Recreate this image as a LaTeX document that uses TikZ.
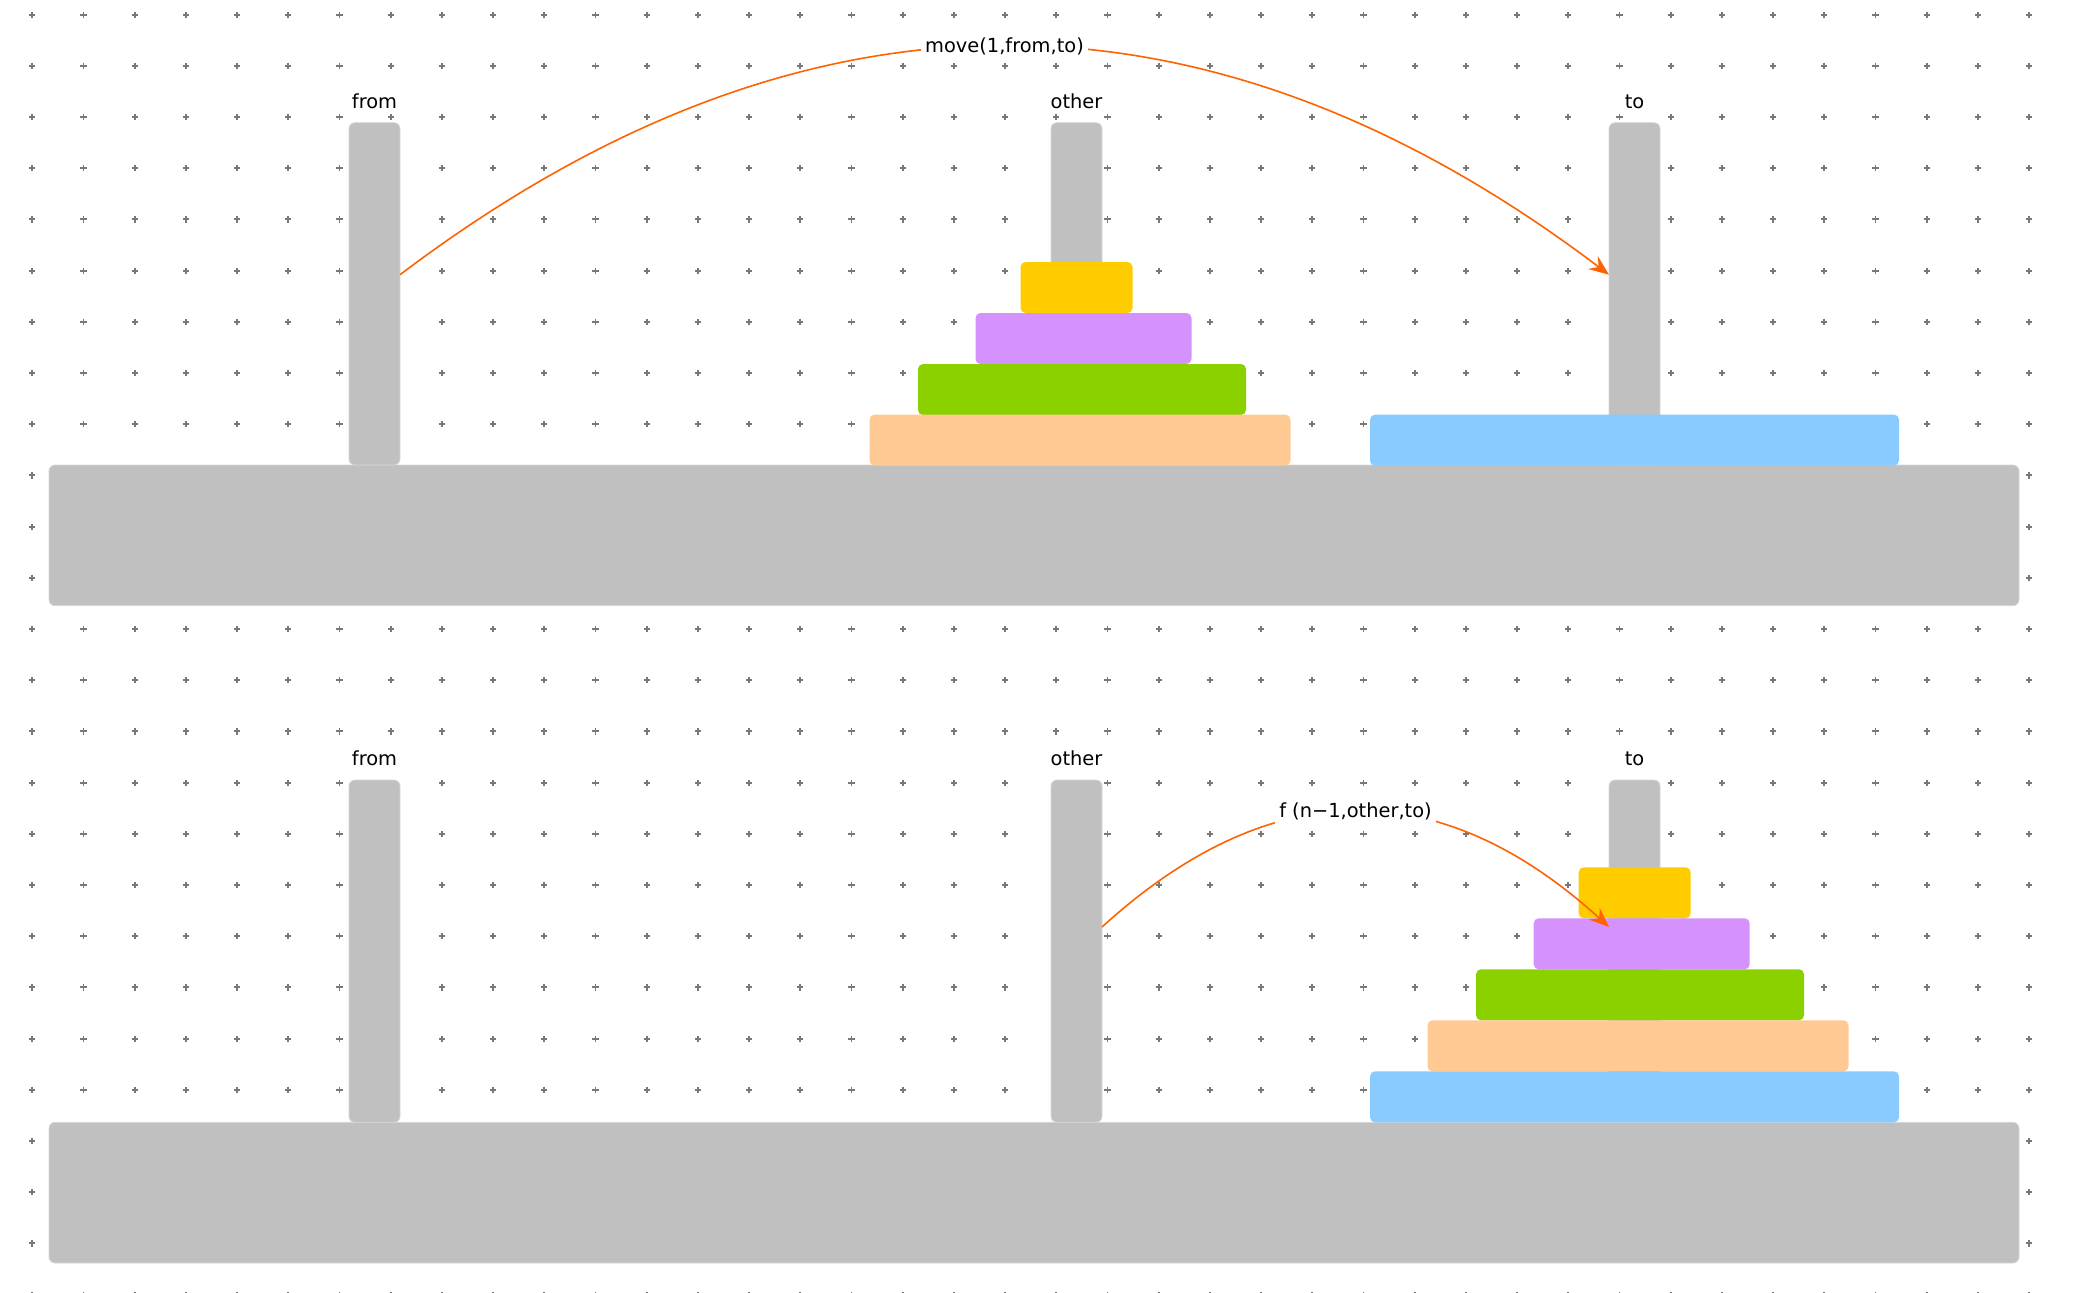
\documentclass[tikz,border=0pt]{standalone}
\usepackage{fontspec}
\setmainfont{DejaVu Sans}
\usetikzlibrary{arrows.meta,calc}
\definecolor{pegc}{RGB}{192,192,192}
\definecolor{pegline}{RGB}{214,214,214}
\definecolor{dyel}{RGB}{255,204,0}
\definecolor{dpur}{RGB}{213,146,252}
\definecolor{dgrn}{RGB}{139,209,0}
\definecolor{dpch}{RGB}{254,201,147}
\definecolor{dblu}{RGB}{138,203,255}
\definecolor{arr}{RGB}{255,98,0}
\definecolor{gridc}{RGB}{120,120,120}
\begin{document}
\begin{tikzpicture}[x=0.5pt,y=-0.5pt,
  blk/.style={rectangle,inner sep=0pt,outer sep=0pt,anchor=north west,rounded corners=3pt},
  wood/.style={blk,fill=pegc,draw=pegline,line width=0.4pt},
  pegbox/.style={wood,minimum width=25.5pt,minimum height=171.15pt},
  basebox/.style={wood,minimum width=985pt,minimum height=70.35pt},
  disk/.style={blk,rounded corners=2.5pt,minimum height=25.5pt},
  lbl/.style={font=\fontsize{9.7}{11}\selectfont,anchor=base,inner sep=0pt},
  mv/.style={draw=arr,line width=0.8pt,-{Stealth[length=10pt,width=8pt,inset=3.5pt]}},
  mvl/.style={font=\fontsize{9.7}{11}\selectfont,fill=white,inner sep=2pt},
  gridmark/.style={draw=gridc,line width=0.95pt}
]
\path[use as bounding box] (0,0) rectangle (2074,1292);
\clip (0,0) rectangle (2074,1292);
% dotted grid
\foreach \i in {0,...,39}{
  \foreach \j in {0,...,25}{
    \path[gridmark] ({32.3+51.2*\i-3.1},{14.6+51.2*\j}) -- ++(6.2,0)
      ({32.3+51.2*\i},{14.6+51.2*\j-3.1}) -- ++(0,6.2);
  }
}
% ---------- top scene ----------
\node[basebox] (baseT) at (49,465) {};
\node[pegbox] (pegFromT) at (349,122.7) {};
\node[pegbox] (pegOtherT) at (1051,122.7) {};
\node[pegbox] (pegToT) at (1609,122.7) {};
\node[disk,fill=dyel,minimum width=56pt] (yelT) at (1020.5,262) {};
\node[disk,fill=dpur,minimum width=108pt] (purT) at (975.5,313) {};
\node[disk,fill=dgrn,minimum width=164pt] (grnT) at (918,364) {};
\node[disk,fill=dpch,minimum width=210.5pt] (pchT) at (869.5,414.6) {};
\node[disk,fill=dblu,minimum width=264.5pt] (bluT) at (1370,414.6) {};
\node[lbl] (lFromT) at (374.5,108) {from};
\node[lbl] (lOtherT) at (1076.5,108) {other};
\node[lbl] (lToT) at (1634.5,108) {to};
\coordinate (sT) at ($(pegFromT.north east)+(0,152)$);
\coordinate (eT) at ($(pegToT.north west)+(0,152)$);
\draw[mv] (sT) .. controls (803,-30) and (1206,-30) .. node[mvl,pos=0.5] (mT) {move(1,from,to)} (eT);
% ---------- bottom scene ----------
\node[basebox] (baseB) at (49,1122.3) {};
\node[pegbox] (pegFromB) at (349,780) {};
\node[pegbox] (pegOtherB) at (1051,780) {};
\node[pegbox] (pegToB) at (1609,780) {};
\node[disk,fill=dyel,minimum width=56pt] (yelB) at (1578.7,867.3) {};
\node[disk,fill=dpur,minimum width=108pt] (purB) at (1533.7,918.3) {};
\node[disk,fill=dgrn,minimum width=164pt] (grnB) at (1476,969.3) {};
\node[disk,fill=dpch,minimum width=210.5pt] (pchB) at (1427.5,1020.3) {};
\node[disk,fill=dblu,minimum width=264.5pt] (bluB) at (1370,1071.3) {};
\node[lbl] (lFromB) at (374.5,765.3) {from};
\node[lbl] (lOtherB) at (1076.5,765.3) {other};
\node[lbl] (lToB) at (1634.5,765.3) {to};
\coordinate (sB) at ($(pegOtherB.north east)+(0,147)$);
\coordinate (eB) at ($(pegToB.north west)+(0,147)$);
\draw[mv] (sB) .. controls (1271,773) and (1440,773) .. node[mvl,pos=0.5] (mB) {f (n−1,other,to)} (eB);
\end{tikzpicture}
\end{document}
